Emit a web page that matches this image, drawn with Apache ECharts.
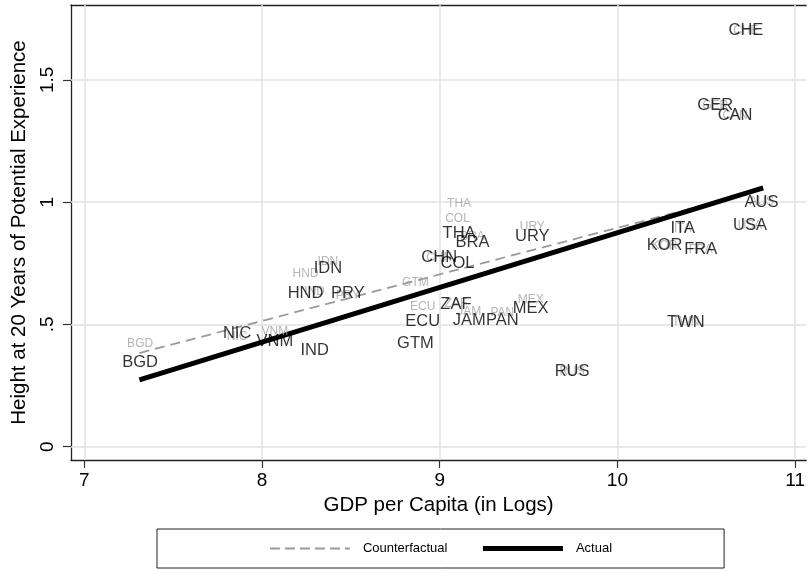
<!DOCTYPE html>
<html>
<head>
<meta charset="utf-8">
<script src="https://cdn.jsdelivr.net/npm/echarts@6/dist/echarts.min.js"></script>
<style>html,body{margin:0;padding:0;background:#fff;}#c{width:808px;height:571px;}</style>
</head>
<body>
<div id="c"></div>
<script>
// ---- data ----
const countries = ['BGD','NIC','VNM','IND','HND','IDN','PRY','GTM','ECU','ZAF','JAM','PAN','MEX','CHN','COL','THA','BRA','URY','RUS','TWN','KOR','ITA','FRA','USA','AUS','CHE','GER','CAN'];
const gdpLog = [7.314,7.860,8.072,8.296,8.245,8.371,8.483,8.863,8.904,9.091,9.166,9.352,9.512,8.997,9.100,9.109,9.184,9.521,9.745,10.385,10.265,10.368,10.469,10.746,10.811,10.723,10.550,10.662];
const heightActual = [0.343,0.461,0.432,0.395,0.627,0.729,0.627,0.423,0.511,0.582,0.518,0.515,0.566,0.774,0.750,0.872,0.834,0.861,0.307,0.510,0.822,0.891,0.805,0.905,1.000,1.701,1.396,1.355];
const heightCounterfactual = [0.420,0.449,0.469,0.634,0.707,0.756,0.616,0.670,0.572,0.585,0.552,0.549,0.600,0.771,0.934,0.992,0.857,0.899,0.307,0.510,0.822,0.891,0.805,0.905,1.000,1.701,1.396,1.355];
const fitX = [7.31, 10.82];
const fitActual = [0.273, 1.058];
const fitCounterfactual = [0.383, 1.051];
const xTicks = [7, 8, 9, 10, 11];
const yTicks = [0, 0.5, 1, 1.5];
const xTitle = 'GDP per Capita (in Logs)';
const yTitle = 'Height at 20 Years of Potential Experience';

const FONT = 'Liberation Sans';
const X_MIN = 6.925, X_MAX = 11.062, Y_MIN = -0.0544, Y_MAX = 1.806;

const chart = echarts.init(document.getElementById('c'), null, {renderer: 'canvas'});

const labelPts = (ys) => countries.map((n, i) => ({name: n, value: [gdpLog[i], ys[i]]}));

const option = {
  animation: false,
  backgroundColor: '#fff',
  textStyle: {fontFamily: FONT},
  grid: {left: 71, right: 0, top: 5, bottom: 111, containLabel: false},
  legend: {
    data: [
      {name: 'Counterfactual', itemStyle: {opacity: 0}, lineStyle: {width: 1.8, color: '#9a9a9a', type: [10, 5]}},
      {name: 'Actual', itemStyle: {opacity: 0}, lineStyle: {width: 5, color: '#000'}}
    ],
    left: 157, top: 529,
    padding: [13, 112],
    borderColor: '#222', borderWidth: 1,
    itemWidth: 80, itemHeight: 14, itemGap: 33,
    textStyle: {fontSize: 13, fontFamily: FONT, color: '#000', padding: [0, 0, 0, 8]}
  },
  xAxis: [{
    type: 'value', min: X_MIN, max: X_MAX,
    name: xTitle, nameLocation: 'middle', nameGap: 33,
    nameTextStyle: {fontSize: 20.5, fontFamily: FONT, color: '#000'},
    axisLine: {show: true, onZero: false, lineStyle: {color: '#222', width: 1.3}},
    axisTick: {show: true, length: 8, customValues: xTicks, lineStyle: {color: '#333', width: 1.2}},
    axisLabel: {customValues: xTicks, fontSize: 19, fontFamily: FONT, color: '#000', margin: 11},
    splitLine: {show: false}
  }, {
    type: 'value', position: 'top', min: X_MIN, max: X_MAX,
    axisLine: {show: true, onZero: false, lineStyle: {color: '#222', width: 1.3}},
    axisTick: {show: false}, axisLabel: {show: false}, splitLine: {show: false}
  }],
  yAxis: {
    type: 'value', min: Y_MIN, max: Y_MAX,
    name: yTitle, nameLocation: 'middle', nameGap: 31, nameRotate: 90,
    nameTextStyle: {fontSize: 20.5, fontFamily: FONT, color: '#000'},
    axisLine: {show: true, onZero: false, lineStyle: {color: '#222', width: 1.3}},
    axisTick: {show: true, length: 8, customValues: yTicks, lineStyle: {color: '#333', width: 1.2}},
    axisLabel: {customValues: yTicks, rotate: 90, fontSize: 19, fontFamily: FONT, color: '#000', margin: 14,
      formatter: v => String(v).replace(/^0\./, '.')},
    splitLine: {show: false}
  },
  series: [
    {
      name: 'grid', type: 'line', data: [], silent: true, z: 0,
      markLine: {
        silent: true, symbol: 'none', z: 0.5, animation: false,
        label: {show: false},
        lineStyle: {color: '#e2e2e2', width: 1.5, type: 'solid'},
        emphasis: {disabled: true},
        data: xTicks.map(v => ({xAxis: v})).concat(yTicks.map(v => ({yAxis: v})))
      }
    },
    {
      name: 'Counterfactual', type: 'line', z: 3, symbol: 'none', silent: true,
      data: fitX.map((x, i) => [x, fitCounterfactual[i]]),
      itemStyle: {color: '#9a9a9a'},
      lineStyle: {color: '#9a9a9a', width: 1.8, type: [10, 6]}
    },
    {
      name: 'Actual', type: 'line', z: 3, symbol: 'none', silent: true,
      data: fitX.map((x, i) => [x, fitActual[i]]),
      itemStyle: {color: '#000'},
      lineStyle: {color: '#000', width: 5, cap: 'butt'}
    },
    {
      name: 'cfLabels', type: 'scatter', z: 4, silent: true,
      symbolSize: 1, itemStyle: {color: 'rgba(0,0,0,0)'},
      data: labelPts(heightCounterfactual),
      label: {show: true, position: 'inside', formatter: p => p.name, fontSize: 12, fontFamily: FONT, color: '#a3a3a3'}
    },
    {
      name: 'actLabels', type: 'scatter', z: 5, silent: true,
      symbolSize: 1, itemStyle: {color: 'rgba(0,0,0,0)'},
      data: labelPts(heightActual),
      label: {show: true, position: 'inside', formatter: p => p.name, fontSize: 16.5, fontFamily: FONT, color: '#000'}
    }
  ]
};
chart.setOption(option);
</script>
</body>
</html>
